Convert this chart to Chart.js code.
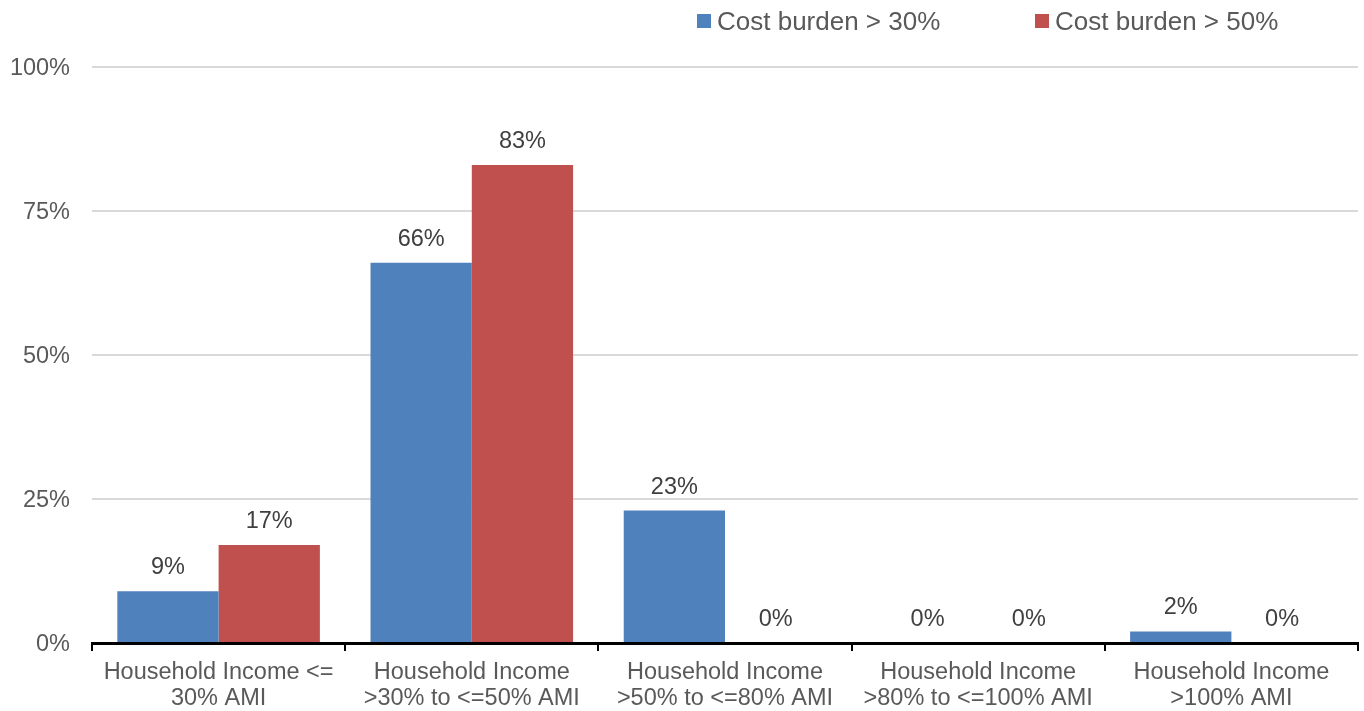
<!DOCTYPE html>
<html>
<head>
<meta charset="utf-8">
<script src="https://cdn.jsdelivr.net/npm/chart.js@4/dist/chart.umd.min.js"></script>
<style>
  html, body { margin: 0; padding: 0; background: #ffffff; }
  #wrap { width: 1364px; height: 711px; position: relative; }
</style>
</head>
<body>
<div id="wrap"><canvas id="chart"></canvas></div>
<script>
// Household income groups (two-line labels)
const categories = [
  ["Household Income <=", "30% AMI"],
  ["Household Income", ">30% to <=50% AMI"],
  ["Household Income", ">50% to <=80% AMI"],
  ["Household Income", ">80% to <=100% AMI"],
  ["Household Income", ">100% AMI"]
];

// Share of households by cost burden level (%)
const costBurden30 = [9, 66, 23, 0, 2];
const costBurden50 = [17, 83, 0, 0, 0];

const seriesNames = ["Cost burden > 30%", "Cost burden > 50%"];
const seriesColors = ["#4F81BD", "#C0504D"];

const yTicks = [0, 25, 50, 75, 100];

const FONT = "'Liberation Sans', Arial, sans-serif";
const TEXT = "#595959";

// Value labels above each bar
const valueLabels = {
  id: "valueLabels",
  afterDatasetsDraw(chart) {
    const ctx = chart.ctx;
    ctx.save();
    ctx.font = "23.5px " + FONT;
    ctx.fillStyle = "#404040";
    ctx.textAlign = "center";
    ctx.textBaseline = "alphabetic";
    chart.data.datasets.forEach((ds, i) => {
      const meta = chart.getDatasetMeta(i);
      meta.data.forEach((bar, j) => {
        ctx.fillText(Math.round(ds.data[j]) + "%", bar.x, bar.y - 17);
      });
    });
    ctx.restore();
  }
};

// Legend row at the top right
const topLegend = {
  id: "topLegend",
  afterDraw(chart) {
    const ctx = chart.ctx;
    const items = [
      { x: 697, label: seriesNames[0], color: seriesColors[0] },
      { x: 1035, label: seriesNames[1], color: seriesColors[1] }
    ];
    ctx.save();
    ctx.font = "26px " + FONT;
    ctx.textBaseline = "middle";
    ctx.textAlign = "left";
    items.forEach(it => {
      ctx.fillStyle = it.color;
      ctx.fillRect(it.x, 14, 14, 14);
      ctx.fillStyle = TEXT;
      ctx.fillText(it.label, it.x + 20, 23);
    });
    ctx.restore();
  }
};

new Chart(document.getElementById("chart"), {
  type: "bar",
  data: {
    labels: categories,
    datasets: [
      {
        label: seriesNames[0],
        data: costBurden30,
        backgroundColor: seriesColors[0],
        categoryPercentage: 0.8,
        barPercentage: 1.0
      },
      {
        label: seriesNames[1],
        data: costBurden50,
        backgroundColor: seriesColors[1],
        categoryPercentage: 0.8,
        barPercentage: 1.0
      }
    ]
  },
  options: {
    responsive: true,
    maintainAspectRatio: false,
    animation: false,
    layout: { padding: { top: 67, right: 6, bottom: 0, left: 0 } },
    plugins: {
      legend: { display: false },
      tooltip: { enabled: false }
    },
    scales: {
      x: {
        offset: true,
        grid: {
          offset: true,
          display: true,
          drawOnChartArea: false,
          drawTicks: true,
          tickLength: 8,
          color: "#000000",
          lineWidth: 2
        },
        border: { display: true, color: "#000000", width: 3 },
        ticks: {
          color: TEXT,
          font: { family: FONT, size: 23.5, lineHeight: 1.1 },
          padding: 9,
          maxRotation: 0,
          autoSkip: false
        },
        afterFit(scale) { scale.height = 68; }
      },
      y: {
        min: 0,
        max: 100,
        afterBuildTicks(scale) {
          scale.ticks = yTicks.map(v => ({ value: v }));
        },
        grid: {
          color: "#d9d9d9",
          lineWidth: 2,
          drawTicks: false
        },
        border: { display: false },
        ticks: {
          color: TEXT,
          font: { family: FONT, size: 23.5 },
          padding: 22,
          labelOffset: 2,
          callback: v => v + "%"
        },
        afterFit(scale) { scale.width = 92; }
      }
    }
  },
  plugins: [valueLabels, topLegend]
});
</script>
</body>
</html>
